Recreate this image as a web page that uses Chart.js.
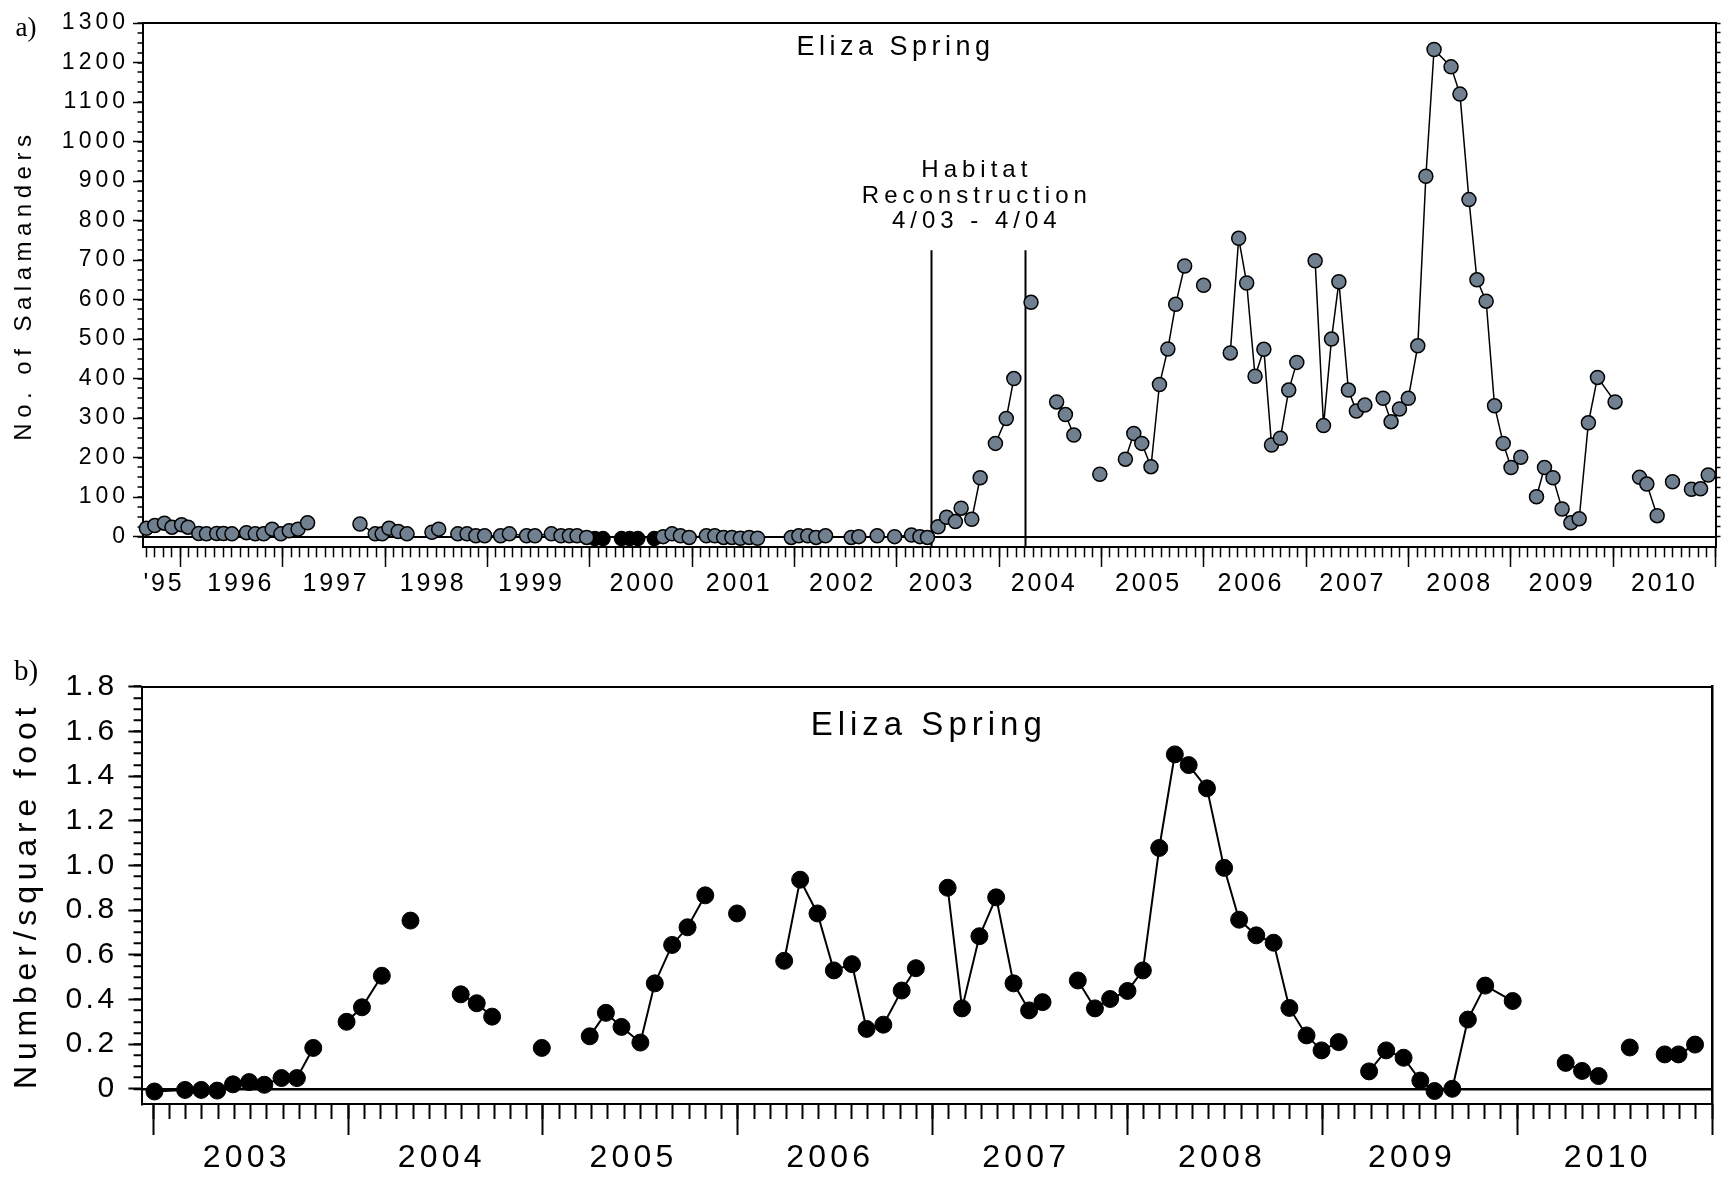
<!DOCTYPE html>
<html>
<head>
<meta charset="utf-8">
<title>Eliza Spring salamander counts</title>
<script src="https://cdn.jsdelivr.net/npm/chart.js@4.4.1/dist/chart.umd.min.js"></script>
<style>
  html, body { margin: 0; padding: 0; background: #ffffff; }
  #wrap { position: relative; width: 1724px; height: 1178px; overflow: hidden; }
  canvas { position: absolute; left: 0; }
  #countChart { top: 0; }
  #densityChart { top: 620px; }
</style>
</head>
<body>
<div id="wrap">
  <canvas id="countChart" width="1724" height="620"></canvas>
  <canvas id="densityChart" width="1724" height="558"></canvas>
</div>
<script>
// ---------------- data ----------------
// a) salamander counts; null marks a break in the connecting line
const countDates = [
  1995.668, 1995.750, 1995.844, 1995.918, 1996.012, 1996.075, 1996.180, 1996.255, 1996.355, 1996.422,
  1996.504, 1996.646, 1996.732, 1996.814, 1996.897, 1996.982, 1997.064, 1997.150, 1997.243, null,
  1997.755, 1997.904, 1997.972, 1998.039, 1998.129, 1998.215, null,
  1998.458, 1998.524, null,
  1998.711, 1998.801, 1998.887, 1998.973, 1999.129, 1999.215, 1999.383, 1999.465, 1999.625, 1999.719,
  1999.801, 1999.876, 1999.970, null,
  2000.718, 2000.804, 2000.886, 2000.972, 2001.140, 2001.222, 2001.308, 2001.389, 2001.472, 2001.558,
  2001.640, null,
  2001.969, 2002.043, 2002.130, 2002.212, 2002.304, null,
  2002.555, 2002.629, null,
  2002.809, null,
  2002.979, 2003.144, 2003.226, 2003.300, 2003.404, 2003.487, 2003.573, 2003.629, 2003.733, 2003.815, null,
  2003.964, 2004.070, 2004.144, null,
  2004.312, null,
  2004.562, 2004.648, 2004.730, null,
  2004.984, null,
  2005.234, 2005.316, 2005.394, 2005.484, 2005.567, 2005.649, 2005.725, 2005.813, null,
  2005.998, null,
  2006.259, 2006.341, 2006.419, 2006.501, 2006.587, 2006.662, 2006.748, 2006.830, 2006.909, null,
  2007.088, 2007.170, 2007.248, 2007.320, 2007.413, 2007.491, 2007.574, null,
  2007.752, 2007.830, 2007.912, 2007.998, 2008.091, 2008.170, 2008.250, 2008.416, 2008.503, 2008.591,
  2008.669, 2008.759, 2008.841, 2008.926, 2009.002, 2009.097, null,
  2009.251, 2009.329, 2009.412, 2009.501, 2009.587, 2009.668, 2009.758, 2009.847, 2010.019, null,
  2010.258, 2010.329, 2010.430, null,
  2010.580, null,
  2010.765, 2010.854, 2010.929
];
const counts = [
  21, 28, 34, 24, 30, 24, 8, 7, 8, 8,
  7, 10, 7, 7, 19, 7, 15, 19, 35, null,
  32, 7, 7, 21, 13, 7, null,
  11, 19, null,
  7, 7, 2, 2, 2, 7, 2, 2, 7, 2,
  2, 2, -2, null,
  0, 7, 2, -2, 2, 2, -2, -2, -4, -2,
  -4, null,
  -2, 2, 2, -2, 2, null,
  -2, 0, null,
  2, null,
  0, 4, 0, -2, 25, 49, 38, 72, 44, 149, null,
  236, 299, 400, null,
  593, null,
  341, 309, 257, null,
  158, null,
  196, 261, 236, 177, 385, 475, 588, 685, null,
  636, null,
  465, 755, 642, 406, 474, 232, 249, 371, 441, null,
  698, 281, 500, 645, 371, 318, 333, null,
  350, 291, 323, 350, 483, 912, 1233, 1189, 1120, 853,
  650, 596, 331, 236, 175, 201, null,
  101, 175, 149, 70, 35, 45, 288, 403, 341, null,
  150, 133, 53, null,
  139, null,
  120, 121, 156
];
// a) surveys with no salamanders found (black markers)
const zeroSurveyDates = [2000.05, 2000.13, 2000.31, 2000.39, 2000.47, 2000.63];
const zeroSurveyCounts = [-5, -5, -5, -5, -5, -5];

// b) salamanders per square foot
const densityDates = [
  2003.006, 2003.163, 2003.246, 2003.328, 2003.409, 2003.492, 2003.570, 2003.658, 2003.737, 2003.821, null,
  2003.992, 2004.071, 2004.173, null,
  2004.320, null,
  2004.578, 2004.660, 2004.739, null,
  2004.994, null,
  2005.240, 2005.323, 2005.403, 2005.500, 2005.574, 2005.663, 2005.742, 2005.833, null,
  2005.996, null,
  2006.238, 2006.320, 2006.409, 2006.493, 2006.586, 2006.661, 2006.747, 2006.841, 2006.914, null,
  2007.077, 2007.151, 2007.240, 2007.326, 2007.415, 2007.495, 2007.564, null,
  2007.745, 2007.833, 2007.911, 2008.000, 2008.079, 2008.163, 2008.243, 2008.314, 2008.408, 2008.496,
  2008.573, 2008.661, 2008.750, 2008.831, 2008.919, 2008.996, 2009.084, null,
  2009.240, 2009.328, 2009.417, 2009.503, 2009.576, 2009.667, 2009.747, 2009.836, 2009.977, null,
  2010.249, 2010.333, 2010.418, null,
  2010.578, null,
  2010.757, 2010.828, 2010.913
];
const densities = [
  -0.012, -0.005, -0.005, -0.008, 0.020, 0.030, 0.018, 0.048, 0.048, 0.183, null,
  0.300, 0.365, 0.506, null,
  0.753, null,
  0.423, 0.383, 0.323, null,
  0.183, null,
  0.235, 0.340, 0.277, 0.207, 0.472, 0.644, 0.723, 0.866, null,
  0.785, null,
  0.573, 0.936, 0.785, 0.530, 0.558, 0.268, 0.287, 0.440, 0.540, null,
  0.900, 0.360, 0.683, 0.857, 0.472, 0.351, 0.388, null,
  0.485, 0.360, 0.402, 0.438, 0.530, 1.078, 1.497, 1.449, 1.345, 0.989,
  0.757, 0.687, 0.654, 0.362, 0.239, 0.172, 0.209, null,
  0.078, 0.172, 0.139, 0.037, -0.010, 0.000, 0.310, 0.462, 0.393, null,
  0.116, 0.080, 0.057, null,
  0.185, null,
  0.154, 0.154, 0.198
];

// axis tick labels and where they sit along the time axis
const countYearLabels = ["'95", '1996', '1997', '1998', '1999', '2000', '2001', '2002',
  '2003', '2004', '2005', '2006', '2007', '2008', '2009', '2010'];
const countYearLabelAt = [1995.84, 1996.59, 1997.52, 1998.47, 1999.43, 2000.52, 2001.46, 2002.47,
  2003.44, 2004.44, 2005.46, 2006.46, 2007.455, 2008.50, 2009.50, 2010.50];
const countTickLabels = ['0', '100', '200', '300', '400', '500', '600', '700', '800',
  '900', '1000', '1100', '1200', '1300'];
const densityYearLabels = ['2003', '2004', '2005', '2006', '2007', '2008', '2009', '2010'];
const densityYearLabelAt = [2003.48, 2004.48, 2005.465, 2006.475, 2007.48, 2008.485, 2009.46, 2010.465];
const densityTickLabels = ['0', '0.2', '0.4', '0.6', '0.8', '1.0', '1.2', '1.4', '1.6', '1.8'];

// habitat reconstruction period (April 2003 - April 2004)
const reconstructionStart = 2003.33;
const reconstructionEnd = 2004.25;

// ---------------- helpers ----------------
const FONT = '"Liberation Sans", Arial, Helvetica, sans-serif';
const SERIF = '"Liberation Serif", "Times New Roman", serif';
const BLACK = '#000000';

function toPoints(dates, values) {
  return dates.map((d, i) => ({
    x: d === null ? (dates[i - 1] + dates[i + 1]) / 2 : d,
    y: values[i]
  }));
}
function range(from, to, step) {
  const n = Math.round((to - from) / step);
  return Array.from({ length: n + 1 }, (_, k) => +(from + k * step).toFixed(4));
}
function monthTicks(firstMonth, lastMonth) {
  const out = [];
  for (let k = firstMonth; k <= lastMonth; k++) out.push(k / 12);
  return out;
}
function setTicks(values) {
  return scale => { scale.ticks = values.map(v => ({ value: v })); };
}

// letter spacing for axis text (tick labels / titles)
const trackingPlugin = {
  id: 'tracking',
  beforeDraw(chart, args, opts) {
    Object.keys(opts.scales || {}).forEach(id => {
      const cfg = opts.scales[id];
      const scale = chart.scales[id];
      if (!scale || scale.$tracked) return;
      scale.$tracked = true;
      [['drawLabels', cfg.labels], ['drawTitle', cfg.title]].forEach(([fn, space]) => {
        if (space == null) return;
        const base = scale[fn];
        scale[fn] = function (...a) {
          const ctx = this.ctx;
          const prev = ctx.letterSpacing;
          ctx.letterSpacing = space + 'px';
          base.apply(this, a);
          ctx.letterSpacing = prev;
        };
      });
    });
  }
};

// markers and free text placed in data coordinates
function notesPlugin(notes) {
  return {
    id: 'notes',
    beforeDatasetsDraw(chart) {
      const { ctx, chartArea, scales } = chart;
      (notes.markers || []).forEach(m => {
        const px = Math.round(scales.x.getPixelForValue(m.x)) + 0.5;
        ctx.save();
        ctx.strokeStyle = BLACK;
        ctx.lineWidth = 2;
        ctx.beginPath();
        ctx.moveTo(px, scales.y.getPixelForValue(m.from));
        ctx.lineTo(px, chartArea.bottom);
        ctx.stroke();
        ctx.restore();
      });
    },
    afterDraw(chart) {
      const { ctx, scales } = chart;
      (notes.texts || []).forEach(t => {
        const px = t.px !== undefined ? t.px : scales.x.getPixelForValue(t.x);
        const py = t.py !== undefined ? t.py : scales.y.getPixelForValue(t.y);
        ctx.save();
        ctx.font = `${t.size}px ${t.family || FONT}`;
        ctx.letterSpacing = (t.spacing || 0) + 'px';
        ctx.fillStyle = BLACK;
        ctx.textAlign = 'center';
        ctx.textBaseline = 'middle';
        ctx.fillText(t.text, px + (t.spacing || 0) / 2, py);
        ctx.restore();
      });
    }
  };
}

function baseOptions() {
  return {
    responsive: false,
    animation: false,
    devicePixelRatio: 1,
    events: []
  };
}

// ---------------- a) counts ----------------
const A_XMIN = 1995.63, A_XMAX = 2011, A_YMIN = -27, A_YMAX = 1300;

new Chart(document.getElementById('countChart'), {
  type: 'line',
  data: {
    datasets: [
      {
        data: toPoints(countDates, counts),
        xAxisID: 'x', yAxisID: 'y',
        borderColor: BLACK, borderWidth: 1.5,
        pointBackgroundColor: '#708090', pointBorderColor: BLACK,
        pointBorderWidth: 1.5, pointRadius: 7,
        spanGaps: false, tension: 0, clip: false
      },
      {
        data: toPoints(zeroSurveyDates, zeroSurveyCounts),
        xAxisID: 'x', yAxisID: 'y',
        showLine: false,
        pointBackgroundColor: BLACK, pointBorderColor: BLACK,
        pointBorderWidth: 1.5, pointRadius: 7, clip: false
      }
    ]
  },
  options: Object.assign(baseOptions(), {
    layout: { padding: { top: 23, left: 0, right: 0, bottom: 0 } },
    scales: {
      x: {
        type: 'linear', axis: 'x', position: 'bottom', min: A_XMIN, max: A_XMAX,
        afterBuildTicks: setTicks(monthTicks(1995 * 12 + 8, 2011 * 12)),
        afterFit: s => { s.height = 72.7; },
        grid: { display: true, drawOnChartArea: false, drawTicks: true, tickLength: 10,
                tickWidth: 1.5, tickColor: BLACK, color: BLACK },
        border: { display: true, color: BLACK, width: 2 },
        ticks: { display: false }
      },
      xMajor: {
        type: 'linear', axis: 'x', position: { y: A_YMIN }, min: A_XMIN, max: A_XMAX,
        afterBuildTicks: setTicks(range(1996, 2011, 1)),
        grid: { display: true, drawOnChartArea: false, tickLength: 20, tickWidth: 1.5,
                tickColor: BLACK, color: BLACK },
        border: { display: false },
        ticks: { display: false }
      },
      xLabels: {
        type: 'linear', axis: 'x', position: { y: A_YMIN }, min: A_XMIN, max: A_XMAX,
        afterBuildTicks: setTicks(countYearLabelAt),
        grid: { display: false, drawTicks: false },
        border: { display: false },
        ticks: { autoSkip: false, maxRotation: 0, minRotation: 0, padding: 21.7, color: BLACK,
                 font: { family: FONT, size: 25 },
                 callback: (v, i) => countYearLabels[i] }
      },
      xTop: {
        type: 'linear', axis: 'x', position: 'top', min: A_XMIN, max: A_XMAX,
        afterFit: s => { s.height = 0; },
        grid: { display: false },
        border: { display: true, color: BLACK, width: 2 },
        ticks: { display: false }
      },
      y: {
        type: 'linear', axis: 'y', position: 'left', min: A_YMIN, max: A_YMAX,
        afterBuildTicks: setTicks(range(0, 1300, 25)),
        afterFit: s => { s.width = 142.5; },
        grid: { display: true, drawOnChartArea: true,
                color: c => (c.tick && c.tick.value === 0 ? BLACK : 'rgba(0,0,0,0)'),
                lineWidth: 2, tickLength: 5, tickWidth: 1.5, tickColor: BLACK },
        border: { display: true, color: BLACK, width: 2 },
        ticks: { autoSkip: false, padding: 8.5, color: BLACK, font: { family: FONT, size: 23 },
                 callback: v => (v % 100 === 0 ? countTickLabels[v / 100] : '') },
        title: { display: true, text: 'No. of Salamanders', color: BLACK,
                 font: { family: FONT, size: 24 }, padding: { top: 9.6, bottom: 0 } }
      },
      yMajor: {
        type: 'linear', axis: 'y', position: { x: A_XMIN }, min: A_YMIN, max: A_YMAX,
        afterBuildTicks: setTicks(range(0, 1300, 100)),
        grid: { display: true, drawOnChartArea: false, tickLength: 10, tickWidth: 1.5,
                tickColor: BLACK, color: BLACK },
        border: { display: false },
        ticks: { display: false }
      },
      yRight: {
        type: 'linear', axis: 'y', position: 'right', min: A_YMIN, max: A_YMAX,
        afterBuildTicks: setTicks(range(0, 1300, 25)),
        afterFit: s => { s.width = 6; },
        grid: { display: true, drawOnChartArea: false, tickLength: 5, tickWidth: 1.5,
                tickColor: BLACK, color: BLACK },
        border: { display: true, color: BLACK, width: 2 },
        ticks: { display: false }
      }
    },
    plugins: {
      legend: { display: false }, tooltip: { enabled: false },
      tracking: { scales: { xLabels: { labels: 2.8 }, y: { labels: 4, title: 5.5 } } }
    }
  }),
  plugins: [trackingPlugin, notesPlugin({
    markers: [{ x: reconstructionStart, from: 725 }, { x: reconstructionEnd, from: 725 }],
    texts: [
      { text: 'Eliza Spring', x: 2002.966, y: 1237, size: 27, spacing: 4.5 },
      { text: 'Habitat', x: 2003.758, y: 928, size: 24, spacing: 5 },
      { text: 'Reconstruction', x: 2003.758, y: 861, size: 24, spacing: 5 },
      { text: '4/03 - 4/04', x: 2003.758, y: 797, size: 24, spacing: 5 },
      { text: 'a)', px: 26, py: 29, size: 27, family: SERIF }
    ]
  })]
});

// ---------------- b) density ----------------
const B_XMIN = 2002.94, B_XMAX = 2011, B_YMIN = -0.068, B_YMAX = 1.8;

new Chart(document.getElementById('densityChart'), {
  type: 'line',
  data: {
    datasets: [
      {
        data: toPoints(densityDates, densities),
        xAxisID: 'x', yAxisID: 'y',
        borderColor: BLACK, borderWidth: 2,
        pointBackgroundColor: BLACK, pointBorderColor: BLACK,
        pointBorderWidth: 1, pointRadius: 8.5,
        spanGaps: false, tension: 0, clip: false
      }
    ]
  },
  options: Object.assign(baseOptions(), {
    layout: { padding: { top: 66.7, left: 0, right: 0, bottom: 0 } },
    scales: {
      x: {
        type: 'linear', axis: 'x', position: 'bottom', min: B_XMIN, max: B_XMAX,
        afterBuildTicks: setTicks(monthTicks(2003 * 12, 2011 * 12)),
        afterFit: s => { s.height = 74; },
        grid: { display: true, drawOnChartArea: false, drawTicks: true, tickLength: 15,
                tickWidth: 2, tickColor: BLACK, color: BLACK },
        border: { display: true, color: BLACK, width: 2 },
        ticks: { display: false }
      },
      xMajor: {
        type: 'linear', axis: 'x', position: { y: B_YMIN }, min: B_XMIN, max: B_XMAX,
        afterBuildTicks: setTicks(range(2003, 2011, 1)),
        grid: { display: true, drawOnChartArea: false, tickLength: 31, tickWidth: 2,
                tickColor: BLACK, color: BLACK },
        border: { display: false },
        ticks: { display: false }
      },
      xLabels: {
        type: 'linear', axis: 'x', position: { y: B_YMIN }, min: B_XMIN, max: B_XMAX,
        afterBuildTicks: setTicks(densityYearLabelAt),
        grid: { display: false, drawTicks: false },
        border: { display: false },
        ticks: { autoSkip: false, maxRotation: 0, minRotation: 0, padding: 34.8, color: BLACK,
                 font: { family: FONT, size: 32 },
                 callback: (v, i) => densityYearLabels[i] }
      },
      xTop: {
        type: 'linear', axis: 'x', position: 'top', min: B_XMIN, max: B_XMAX,
        afterFit: s => { s.height = 0; },
        grid: { display: false },
        border: { display: true, color: BLACK, width: 2 },
        ticks: { display: false }
      },
      y: {
        type: 'linear', axis: 'y', position: 'left', min: B_YMIN, max: B_YMAX,
        afterBuildTicks: setTicks(range(0, 1.8, 0.05)),
        afterFit: s => { s.width = 141.6; },
        grid: { display: true, drawOnChartArea: true,
                color: c => (c.tick && c.tick.value === 0 ? BLACK : 'rgba(0,0,0,0)'),
                lineWidth: 2.5, tickLength: 8, tickWidth: 2, tickColor: BLACK },
        border: { display: true, color: BLACK, width: 2 },
        ticks: { autoSkip: false, padding: 16, color: BLACK, font: { family: FONT, size: 30 },
                 callback: v => {
                   const i = Math.round(v / 0.2);
                   return Math.abs(v - i * 0.2) < 1e-6 ? densityTickLabels[i] : '';
                 } },
        title: { display: true, text: 'Number/square foot', color: BLACK,
                 font: { family: FONT, size: 32 }, padding: { top: 7.8, bottom: 0 } }
      },
      yMajor: {
        type: 'linear', axis: 'y', position: { x: B_XMIN }, min: B_YMIN, max: B_YMAX,
        afterBuildTicks: setTicks(range(0, 1.8, 0.2)),
        grid: { display: true, drawOnChartArea: false, tickLength: 13.6, tickWidth: 2,
                tickColor: BLACK, color: BLACK },
        border: { display: false },
        ticks: { display: false }
      },
      yRight: {
        type: 'linear', axis: 'y', position: 'right', min: B_YMIN, max: B_YMAX,
        afterFit: s => { s.width = 12; },
        grid: { display: false },
        border: { display: true, color: BLACK, width: 2.5 },
        ticks: { display: false }
      }
    },
    plugins: {
      legend: { display: false }, tooltip: { enabled: false },
      tracking: { scales: { xLabels: { labels: 4.2 }, y: { labels: 3.5, title: 5.8 } } }
    }
  }),
  plugins: [trackingPlugin, notesPlugin({
    texts: [
      { text: 'Eliza Spring', x: 2006.967, y: 1.625, size: 33, spacing: 5 },
      { text: 'b)', px: 26, py: 52, size: 29, family: SERIF }
    ]
  })]
});
</script>
</body>
</html>
